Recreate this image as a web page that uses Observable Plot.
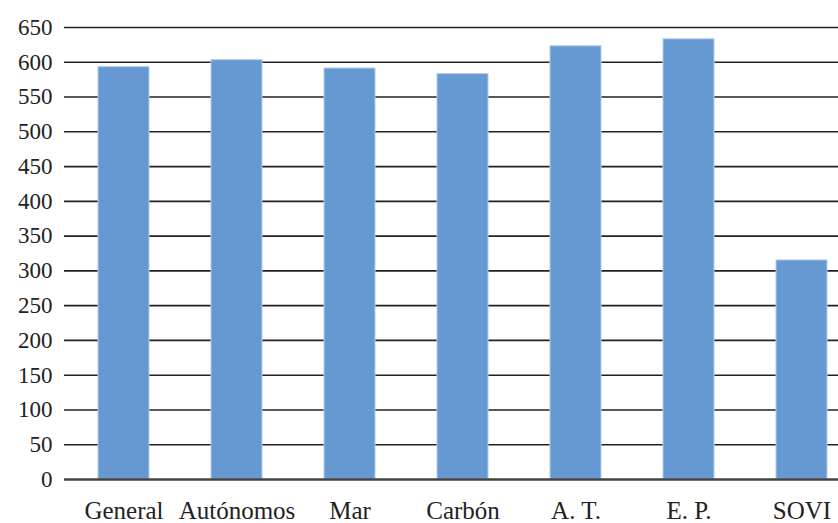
<!DOCTYPE html>
<html>
<head>
<meta charset="utf-8">
<script src="https://cdn.jsdelivr.net/npm/d3@7"></script>
<script src="https://cdn.jsdelivr.net/npm/@observablehq/plot@0.6"></script>
<style>
  html, body { margin: 0; padding: 0; background: #fff; }
  #chart svg { display: block; }
</style>
</head>
<body>
<div id="chart"></div>
<script>
const categories = ["General", "Autónomos", "Mar", "Carbón", "A. T.", "E. P.", "SOVI"];
const values = [593, 603, 591, 583, 623, 633, 315];
const yTicks = [0, 50, 100, 150, 200, 250, 300, 350, 400, 450, 500, 550, 600, 650];
const gridTicks = yTicks.filter(d => d > 0);

const data = categories.map((c, i) => ({category: c, value: values[i]}));

const chart = Plot.plot({
  width: 838,
  height: 523,
  marginLeft: 64,
  marginRight: 0,
  marginTop: 27,
  marginBottom: 44,
  style: {fontFamily: "'Liberation Serif', serif", background: "#fff", color: "#222"},
  x: {domain: categories, range: [66, 859], paddingInner: 0.55, paddingOuter: 0.275, label: null},
  y: {domain: [0, 650], label: null},
  marks: [
    Plot.ruleY(gridTicks, {stroke: "#222", strokeWidth: 1.6}),
    Plot.barY(data, {x: "category", y: "value", fill: "#6699d2", stroke: "#b3cbea", strokeWidth: 1}),
    Plot.ruleY([0], {stroke: "#444", strokeWidth: 2.5}),
    Plot.axisY(yTicks, {tickSize: 0, tickPadding: 12, fontSize: 23, fontFamily: "Liberation Serif", fontVariant: "normal", label: null, fill: "#222"}),
    Plot.axisX({tickSize: 0, tickPadding: 22, fontSize: 25, fontFamily: "Liberation Serif", label: null, fill: "#222"})
  ]
});
document.getElementById("chart").appendChild(chart);
</script>
</body>
</html>
